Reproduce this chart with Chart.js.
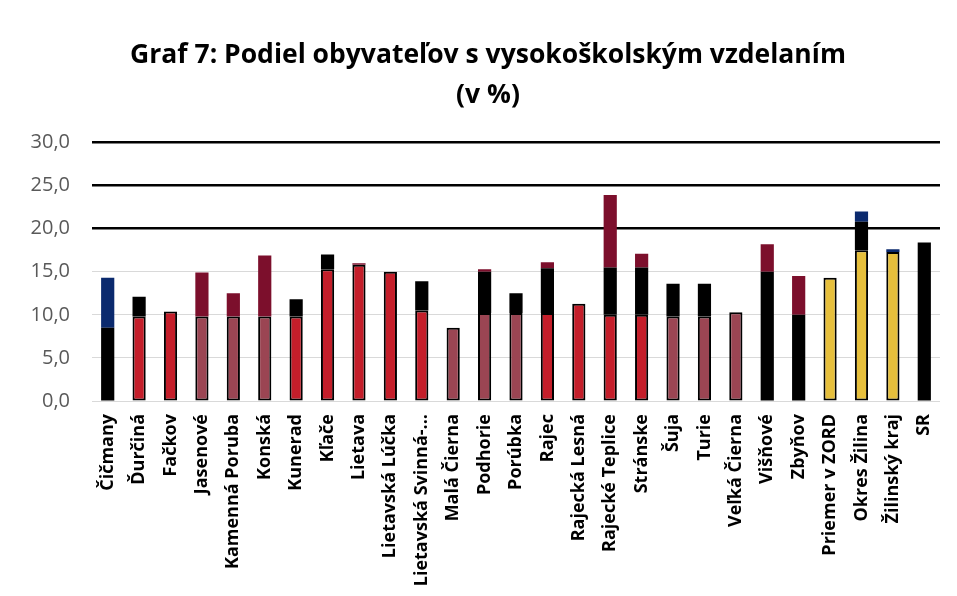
<!DOCTYPE html>
<html>
<head>
<meta charset="utf-8">
<script src="https://cdn.jsdelivr.net/npm/chart.js@4"></script>
<style>
  html, body { margin: 0; padding: 0; background: #fff; }
  #wrap { width: 957px; height: 596px; }
</style>
</head>
<body>
<div id="wrap"><canvas id="chart" width="957" height="596"></canvas></div>
<script>
// Categories (municipalities + comparisons)
const categories = [
  "Čičmany", "Ďurčiná", "Fačkov", "Jasenové", "Kamenná Poruba", "Konská", "Kunerad",
  "Kľače", "Lietava", "Lietavská Lúčka", "Lietavská Svinná-...", "Malá Čierna", "Podhorie",
  "Porúbka", "Rajec", "Rajecká Lesná", "Rajecké Teplice", "Stránske", "Šuja", "Turie",
  "Veľká Čierna", "Višňové", "Zbyňov", "Priemer v ZORD", "Okres Žilina", "Žilinský kraj", "SR"
];

// Segments of each bar (in %)
const baseSeg = [0, 9.8, 10.4, 9.8, 9.8, 9.8, 9.8, 15.3, 15.8, 15.0, 10.5, 8.5, 10.2,
  10.2, 10.2, 11.3, 10.0, 10.0, 9.8, 9.8, 10.3, 0, 0, 14.3, 17.5, 17.3, 0];
const midSeg = [8.5, 2.3, 0, 0, 0, 0, 2.0, 1.7, 0, 0, 3.4, 0, 4.8,
  2.3, 5.2, 0, 5.5, 5.5, 3.8, 3.8, 0, 15.0, 10.0, 0, 3.3, 0, 18.4];
const topSeg = [5.8, 0, 0, 5.1, 2.7, 7.1, 0, 0, 0.2, 0, 0, 0, 0.3,
  0, 0.7, 0, 8.4, 1.6, 0, 0, 0, 3.2, 4.5, 0, 1.2, 0.3, 0];

// Fill colours of the segments
const baseColors = ["#c41e2a", "#c41e2a", "#c41e2a", "#9b4553", "#9b4553", "#9b4553", "#c41e2a",
  "#c41e2a", "#c41e2a", "#c41e2a", "#c41e2a", "#9b4553", "#9b4553", "#9b4553", "#c41e2a",
  "#c41e2a", "#c41e2a", "#c41e2a", "#9b4553", "#9b4553", "#9b4553", "#c41e2a", "#c41e2a",
  "#e6bf3c", "#e6bf3c", "#e6bf3c", "#c41e2a"];
const topColors = ["#0b2a6e", "#7c0f2c", "#7c0f2c", "#7c0f2c", "#7c0f2c", "#7c0f2c", "#7c0f2c",
  "#7c0f2c", "#7c0f2c", "#7c0f2c", "#7c0f2c", "#7c0f2c", "#7c0f2c", "#7c0f2c", "#7c0f2c",
  "#7c0f2c", "#7c0f2c", "#7c0f2c", "#7c0f2c", "#7c0f2c", "#7c0f2c", "#7c0f2c", "#7c0f2c",
  "#7c0f2c", "#0b2a6e", "#0b2a6e", "#7c0f2c"];

const yTicks = [0, 5, 10, 15, 20, 25, 30];

const common = { stack: "s", barPercentage: 0.42, categoryPercentage: 1, borderSkipped: false };

new Chart(document.getElementById("chart").getContext("2d"), {
  type: "bar",
  data: {
    labels: categories,
    datasets: [
      Object.assign({}, common, {
        label: "base",
        data: baseSeg,
        backgroundColor: baseColors,
        borderColor: "#000",
        borderWidth: 2,
      }),
      Object.assign({}, common, {
        label: "mid",
        data: midSeg,
        backgroundColor: "#000",
        borderWidth: 0,
      }),
      Object.assign({}, common, {
        label: "top",
        data: topSeg,
        backgroundColor: topColors,
        borderWidth: 0,
      }),
    ],
  },
  options: {
    responsive: false,
    animation: false,
    layout: { padding: { left: 19, right: 0, top: 36, bottom: 0 } },
    plugins: {
      legend: { display: false },
      tooltip: { enabled: false },
      title: {
        display: true,
        text: ["Graf 7: Podiel obyvateľov s vysokoškolským vzdelaním", "(v %)"],
        color: "#000",
        font: { family: "'Open Sans', sans-serif", size: 26.5, weight: "bold", lineHeight: 1.5 },
        padding: { top: 0, bottom: 27 },
      },
    },
    scales: {
      x: {
        stacked: true,
        grid: { display: false },
        border: { display: false },
        ticks: {
          color: "#000",
          minRotation: 90,
          maxRotation: 90,
          autoSkip: false,
          padding: 5,
          font: { family: "'Open Sans', sans-serif", size: 18, weight: "bold" },
        },
        afterFit: (s) => { s.height = 195; },
      },
      y: {
        stacked: true,
        min: 0,
        max: 30,
        afterBuildTicks: (s) => { s.ticks = yTicks.map((v) => ({ value: v })); },
        border: { display: false },
        grid: {
          drawTicks: false,
          color: (c) => (c.tick && c.tick.value >= 20 ? "#000" : "#d9d9d9"),
          lineWidth: (c) => (c.tick && c.tick.value >= 20 ? 2.5 : 1),
        },
        ticks: {
          color: "#595959",
          padding: 22,
          font: { family: "'Open Sans', sans-serif", size: 20 },
          callback: (v) => v.toFixed(1).replace(".", ","),
        },
        afterFit: (s) => { s.width = 73; },
      },
      // empty right axis, only keeps the plot away from the right edge
      yRight: {
        position: "right",
        min: 0,
        max: 30,
        grid: { display: false },
        border: { display: false },
        ticks: { display: false },
        afterFit: (s) => { s.width = 17; },
      },
    },
  },
});
</script>
</body>
</html>
